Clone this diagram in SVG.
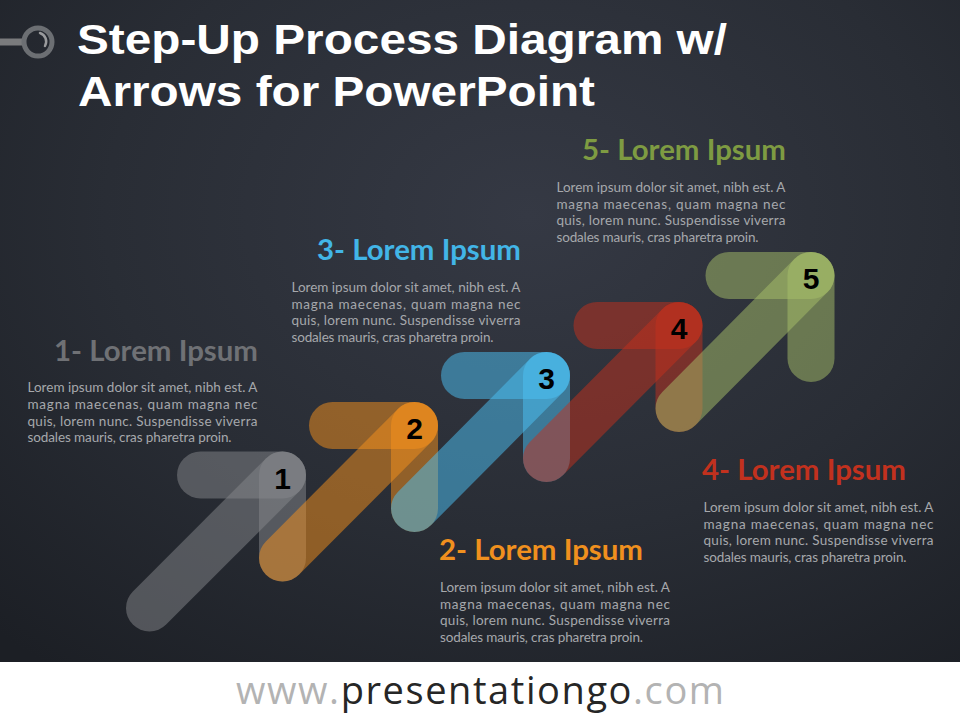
<svg xmlns="http://www.w3.org/2000/svg" width="960" height="720" viewBox="0 0 960 720">
<defs>
<radialGradient id="bg" cx="0.55" cy="0.3" r="0.8">
<stop offset="0" stop-color="#353944"/>
<stop offset="0.55" stop-color="#292d35"/>
<stop offset="1" stop-color="#1c1f25"/>
</radialGradient>
<style>
.bar{fill:none;stroke-width:47;stroke-linecap:round;stroke-opacity:0.5}
.gray{stroke:#86888b}
.orange{stroke:#f7921c}
.blue{stroke:#4bc2f5}
.red{stroke:#c42f1c}
.green{stroke:#a8c06a}
.num{font-family:"Liberation Sans","DejaVu Sans",sans-serif;font-weight:bold;font-size:30px;fill:#000;text-anchor:middle}
.head{font-family:Lato,"Open Sans",sans-serif;font-weight:bold;font-size:28px}
.body{font-family:Lato,"Open Sans",sans-serif;font-size:13.5px;fill:#a6a8ac}
.title{font-family:"Liberation Sans",Arial,sans-serif;font-weight:bold;font-size:43px;fill:#ffffff}
</style>
</defs>
<rect x="0" y="0" width="960" height="720" fill="url(#bg)"/>
<g id="title">
<line x1="0" y1="42" x2="23" y2="42" stroke="#7a7b7d" stroke-width="7"/>
<circle cx="38" cy="42" r="14" fill="none" stroke="#6c6f73" stroke-width="5"/>
<path d="M 40 33 A 9 9 0 0 1 45 46" fill="none" stroke="#9a9b9d" stroke-width="2.5" stroke-linecap="round"/>
<text class="title" x="77" y="54" textLength="650" lengthAdjust="spacingAndGlyphs">Step-Up Process Diagram w/</text>
<text class="title" x="78" y="106" textLength="517" lengthAdjust="spacingAndGlyphs">Arrows for PowerPoint</text>
</g>
<g id="connectors"></g>
<g id="step1">
<path class="bar gray" d="M 200.5 475 H 282.5"/>
<path class="bar gray" d="M 282.5 475 V 558"/>
<path class="bar gray" d="M 282.5 475 L 149.5 608"/>
<text class="num" x="282.5" y="489">1</text>
<text class="head" x="258" y="361" text-anchor="end" fill="#6f7175" textLength="204" lengthAdjust="spacingAndGlyphs">1- Lorem Ipsum</text>
<text class="body" x="27.5" y="392" textLength="230" lengthAdjust="spacing">Lorem ipsum dolor sit amet, nibh est. A</text>
<text class="body" x="27.5" y="409" textLength="230" lengthAdjust="spacing">magna maecenas, quam magna nec</text>
<text class="body" x="27.5" y="425.5" textLength="230" lengthAdjust="spacing">quis, lorem nunc. Suspendisse viverra</text>
<text class="body" x="27.5" y="442" textLength="204" lengthAdjust="spacing">sodales mauris, cras pharetra proin.</text>
</g>
<g id="step2">
<path class="bar orange" d="M 332.5 425.5 H 414.5"/>
<path class="bar orange" d="M 414.5 425.5 V 508.5"/>
<path class="bar orange" d="M 414.5 425.5 L 282.5 558"/>
<text class="num" x="414.5" y="439">2</text>
<text class="head" x="439" y="560" fill="#f0901e" textLength="204" lengthAdjust="spacingAndGlyphs">2- Lorem Ipsum</text>
<text class="body" x="440" y="591.5" textLength="230" lengthAdjust="spacing">Lorem ipsum dolor sit amet, nibh est. A</text>
<text class="body" x="440" y="608.5" textLength="230" lengthAdjust="spacing">magna maecenas, quam magna nec</text>
<text class="body" x="440" y="625" textLength="230" lengthAdjust="spacing">quis, lorem nunc. Suspendisse viverra</text>
<text class="body" x="440" y="641.5" textLength="203" lengthAdjust="spacing">sodales mauris, cras pharetra proin.</text>
</g>
<g id="step3">
<path class="bar blue" d="M 464.5 375.5 H 546.5"/>
<path class="bar blue" d="M 546.5 375.5 V 458.5"/>
<path class="bar blue" d="M 546.5 375.5 L 414.5 508.5"/>
<text class="num" x="546.5" y="389">3</text>
<text class="head" x="521" y="260" text-anchor="end" fill="#42b5e7" textLength="204" lengthAdjust="spacingAndGlyphs">3- Lorem Ipsum</text>
<text class="body" x="291.5" y="291.5" textLength="229" lengthAdjust="spacing">Lorem ipsum dolor sit amet, nibh est. A</text>
<text class="body" x="291.5" y="308.5" textLength="229" lengthAdjust="spacing">magna maecenas, quam magna nec</text>
<text class="body" x="291.5" y="325" textLength="229" lengthAdjust="spacing">quis, lorem nunc. Suspendisse viverra</text>
<text class="body" x="291.5" y="341.5" textLength="202" lengthAdjust="spacing">sodales mauris, cras pharetra proin.</text>
</g>
<g id="step4">
<path class="bar red" d="M 597 325.5 H 679"/>
<path class="bar red" d="M 679 325.5 V 408.5"/>
<path class="bar red" d="M 679 325.5 L 546.5 458.5"/>
<text class="num" x="679" y="339">4</text>
<text class="head" x="702" y="480" fill="#c2311e" textLength="204" lengthAdjust="spacingAndGlyphs">4- Lorem Ipsum</text>
<text class="body" x="703.5" y="511.5" textLength="230" lengthAdjust="spacing">Lorem ipsum dolor sit amet, nibh est. A</text>
<text class="body" x="703.5" y="528.5" textLength="230" lengthAdjust="spacing">magna maecenas, quam magna nec</text>
<text class="body" x="703.5" y="545" textLength="230" lengthAdjust="spacing">quis, lorem nunc. Suspendisse viverra</text>
<text class="body" x="703.5" y="561.5" textLength="203" lengthAdjust="spacing">sodales mauris, cras pharetra proin.</text>
</g>
<g id="step5">
<path class="bar green" d="M 729 275.5 H 811"/>
<path class="bar green" d="M 811 275.5 V 358.5"/>
<path class="bar green" d="M 811 275.5 L 679 408.5"/>
<text class="num" x="811" y="289">5</text>
<text class="head" x="786" y="160" text-anchor="end" fill="#7e9b42" textLength="204" lengthAdjust="spacingAndGlyphs">5- Lorem Ipsum</text>
<text class="body" x="556.5" y="191.5" textLength="229" lengthAdjust="spacing">Lorem ipsum dolor sit amet, nibh est. A</text>
<text class="body" x="556.5" y="208.5" textLength="229" lengthAdjust="spacing">magna maecenas, quam magna nec</text>
<text class="body" x="556.5" y="225" textLength="229" lengthAdjust="spacing">quis, lorem nunc. Suspendisse viverra</text>
<text class="body" x="556.5" y="241.5" textLength="202" lengthAdjust="spacing">sodales mauris, cras pharetra proin.</text>
</g>
<g id="footer">
<rect x="0" y="662" width="960" height="58" fill="#ffffff"/>
<text x="480" y="704" text-anchor="middle" font-family="'Open Sans','Noto Sans',sans-serif" font-size="38" textLength="488" lengthAdjust="spacing" fill="#b3b3b3">www.<tspan fill="#262626">presentationgo</tspan>.com</text>
</g>
</svg>
